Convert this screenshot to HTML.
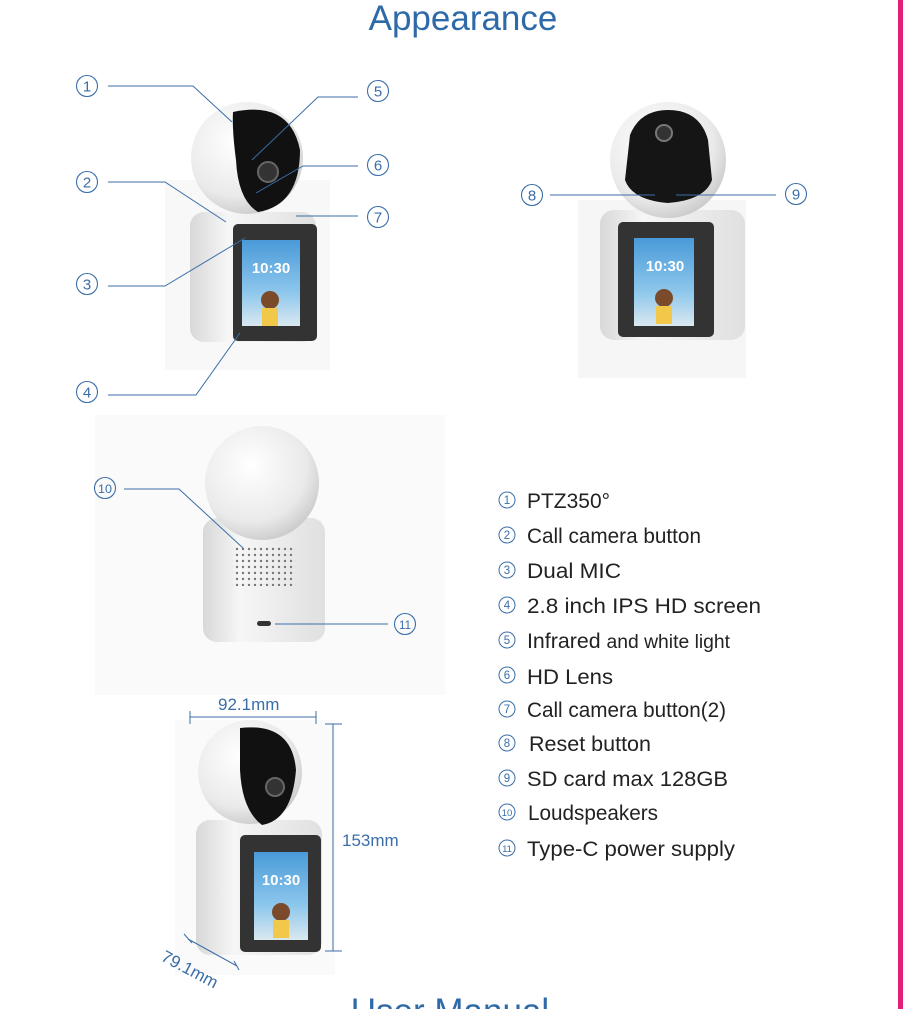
<!DOCTYPE html>
<html><head><meta charset="utf-8"><style>
html,body{margin:0;padding:0;background:#fff;}
svg{display:block;}
text{font-family:"Liberation Sans",sans-serif;}
</style></head><body>
<svg width="915" height="1009" viewBox="0 0 915 1009" xmlns="http://www.w3.org/2000/svg">
<defs>
<radialGradient id="ball" cx="0.4" cy="0.35" r="0.7"><stop offset="0" stop-color="#ffffff"/><stop offset="0.7" stop-color="#eaeaea"/><stop offset="1" stop-color="#c8c8c8"/></radialGradient>
<linearGradient id="base" x1="0" x2="1"><stop offset="0" stop-color="#d8d8d8"/><stop offset="0.3" stop-color="#f6f6f6"/><stop offset="1" stop-color="#e0e0e0"/></linearGradient>
<linearGradient id="scr" x1="0" y1="0" x2="0" y2="1"><stop offset="0" stop-color="#4a9ad8"/><stop offset="0.6" stop-color="#8cc6ec"/><stop offset="1" stop-color="#d9e8f0"/></linearGradient>
<pattern id="dots" width="6" height="6" patternUnits="userSpaceOnUse"><circle cx="3" cy="3" r="1.2" fill="#777"/></pattern>
</defs>
<rect x="898" y="0" width="5" height="1009" fill="#e0207a"/>
<text x="463" y="30" font-size="35" fill="#2e6aa8" text-anchor="middle">Appearance</text>

<!-- camera 1 -->
<rect x="165" y="180" width="165" height="190" fill="#f8f8f8"/>
<rect x="190" y="212" width="126" height="130" rx="14" fill="url(#base)"/>
<circle cx="247" cy="158" r="56" fill="url(#ball)"/>
<path d="M233,112 Q290,100 300,150 Q300,205 258,212 Q238,200 236,160 Q232,130 233,112Z" fill="#111"/>
<circle cx="268" cy="172" r="10" fill="#333" stroke="#666" stroke-width="2"/>
<rect x="233" y="224" width="84" height="117" rx="5" fill="#333"/>
<rect x="242" y="240" width="58" height="86" fill="url(#scr)"/>
<text x="271" y="273" font-size="15" font-weight="bold" fill="#fff" text-anchor="middle">10:30</text>
<circle cx="270" cy="300" r="9" fill="#7a4a2a"/><rect x="262" y="308" width="16" height="18" fill="#f2c84a"/>

<!-- camera 2 -->
<rect x="578" y="200" width="168" height="178" fill="#f6f6f6"/>
<rect x="600" y="210" width="145" height="130" rx="14" fill="url(#base)"/>
<circle cx="668" cy="160" r="58" fill="url(#ball)"/>
<path d="M630,135 Q640,110 668,110 Q700,110 708,140 L712,180 Q705,200 668,203 Q632,200 625,180Z" fill="#151515"/>
<circle cx="664" cy="133" r="8" fill="#333" stroke="#777" stroke-width="2"/>
<rect x="618" y="222" width="96" height="115" rx="5" fill="#333"/>
<rect x="634" y="238" width="60" height="88" fill="url(#scr)"/>
<text x="665" y="271" font-size="15" font-weight="bold" fill="#fff" text-anchor="middle">10:30</text>
<circle cx="664" cy="298" r="9" fill="#7a4a2a"/><rect x="656" y="306" width="16" height="18" fill="#f2c84a"/>

<!-- camera 3 -->
<rect x="95" y="415" width="350" height="280" fill="#fafafa"/>
<rect x="203" y="518" width="122" height="124" rx="14" fill="url(#base)"/>
<circle cx="262" cy="483" r="57" fill="url(#ball)"/>
<rect x="232" y="546" width="64" height="40" fill="url(#dots)"/>
<rect x="257" y="621" width="14" height="5" rx="2.5" fill="#333"/>

<!-- camera 4 -->
<rect x="175" y="720" width="160" height="255" fill="#fafafa"/>
<rect x="196" y="820" width="126" height="135" rx="14" fill="url(#base)"/>
<circle cx="250" cy="772" r="52" fill="url(#ball)"/>
<path d="M240,728 Q292,722 296,770 Q292,820 262,825 Q242,810 240,770Z" fill="#111"/>
<circle cx="275" cy="787" r="9" fill="#333" stroke="#666" stroke-width="2"/>
<rect x="240" y="835" width="81" height="117" rx="5" fill="#333"/>
<rect x="254" y="852" width="54" height="88" fill="url(#scr)"/>
<text x="281" y="885" font-size="15" font-weight="bold" fill="#fff" text-anchor="middle">10:30</text>
<circle cx="281" cy="912" r="9" fill="#7a4a2a"/><rect x="273" y="920" width="16" height="18" fill="#f2c84a"/>

<!-- leaders -->
<g stroke="#3a6ea8" stroke-width="1" fill="none">
<polyline points="108,86 193,86 232,122"/>
<polyline points="358,97 318,97 252,160"/>
<polyline points="358,166 303,166 256,193"/>
<polyline points="108,182 165,182 226,222"/>
<polyline points="358,216 296,216"/>
<polyline points="108,286 165,286 245,238"/>
<polyline points="108,395 196,395 240,333"/>
<polyline points="550,195 655,195"/>
<polyline points="776,195 676,195"/>
<polyline points="124,489 179,489 243,548"/>
<polyline points="388,624 275,624"/>
<line x1="190" y1="717" x2="316" y2="717"/><line x1="190" y1="711" x2="190" y2="724"/><line x1="316" y1="711" x2="316" y2="724"/>
<line x1="333" y1="724" x2="333" y2="951"/><line x1="325" y1="724" x2="342" y2="724"/><line x1="325" y1="951" x2="342" y2="951"/>
<line x1="188" y1="939" x2="237" y2="966"/><line x1="184" y1="934" x2="192" y2="943"/><line x1="234" y1="961" x2="239" y2="970"/>
</g>
<g stroke="#3a6ea8" stroke-width="1.1" fill="none">
<circle cx="87" cy="86" r="10.5"/><circle cx="378" cy="91" r="10.5"/><circle cx="378" cy="165" r="10.5"/>
<circle cx="87" cy="182" r="10.5"/><circle cx="378" cy="217" r="10.5"/><circle cx="87" cy="284" r="10.5"/>
<circle cx="87" cy="392" r="10.5"/><circle cx="532" cy="195" r="10.5"/><circle cx="796" cy="194" r="10.5"/>
<circle cx="105" cy="488" r="10.5"/><circle cx="405" cy="624" r="10.5"/>
</g>
<g fill="#3a6ea8" font-size="15" text-anchor="middle">
<text x="87" y="91.5">1</text><text x="378" y="96.5">5</text><text x="378" y="170.5">6</text>
<text x="87" y="187.5">2</text><text x="378" y="222.5">7</text><text x="87" y="289.5">3</text>
<text x="87" y="397.5">4</text><text x="532" y="200.5">8</text><text x="796" y="199.5">9</text>
<text x="105" y="493" font-size="12" textLength="14" lengthAdjust="spacingAndGlyphs">10</text><text x="405" y="629" font-size="12" textLength="12" lengthAdjust="spacingAndGlyphs">11</text>
</g>
<g fill="#3a6ea8" font-size="17">
<text x="218" y="710">92.1mm</text>
<text x="342" y="846">153mm</text>
<text x="160" y="960" transform="rotate(28 160 960)">79.1mm</text>
</g>

<!-- list -->
<g stroke="#3a6ea8" stroke-width="1" fill="none">
<circle cx="507" cy="500" r="8"/><circle cx="507" cy="535" r="8"/><circle cx="507" cy="570" r="8"/><circle cx="507" cy="605" r="8"/><circle cx="507" cy="640" r="8"/><circle cx="507" cy="675" r="8"/><circle cx="507" cy="709" r="8"/><circle cx="507" cy="743" r="8"/><circle cx="507" cy="778" r="8"/><circle cx="507" cy="812" r="8"/><circle cx="507" cy="848" r="8"/>
</g>
<g fill="#3a6ea8" font-size="11.5" text-anchor="middle">
<text x="507" y="504">1</text><text x="507" y="539">2</text><text x="507" y="574">3</text><text x="507" y="609">4</text><text x="507" y="644">5</text><text x="507" y="679">6</text><text x="507" y="713">7</text><text x="507" y="747">8</text><text x="507" y="782">9</text><text x="507" y="816" font-size="9.5">10</text><text x="507" y="852" font-size="9.5">11</text>
</g>
<g fill="#222" font-size="21">
<text x="527" y="508" textLength="83" lengthAdjust="spacingAndGlyphs">PTZ350°</text>
<text x="527" y="543" textLength="174" lengthAdjust="spacingAndGlyphs">Call camera button</text>
<text x="527" y="578" textLength="94" lengthAdjust="spacingAndGlyphs">Dual  MIC</text>
<text x="527" y="613" textLength="234" lengthAdjust="spacingAndGlyphs">2.8  inch  IPS  HD  screen</text>
<text x="527" y="648" textLength="203" lengthAdjust="spacingAndGlyphs">Infrared <tspan font-size="19">and white light</tspan></text>
<text x="527" y="684" textLength="86" lengthAdjust="spacingAndGlyphs">HD  Lens</text>
<text x="527" y="717" textLength="199" lengthAdjust="spacingAndGlyphs">Call camera button(2)</text>
<text x="529" y="751" textLength="122" lengthAdjust="spacingAndGlyphs">Reset  button</text>
<text x="527" y="786" textLength="201" lengthAdjust="spacingAndGlyphs">SD  card  max  128GB</text>
<text x="528" y="820" textLength="130" lengthAdjust="spacingAndGlyphs">Loudspeakers</text>
<text x="527" y="856" textLength="208" lengthAdjust="spacingAndGlyphs">Type-C  power  supply</text>
</g>
<text x="450" y="1023" font-size="35" fill="#2e6aa8" text-anchor="middle">User Manual</text>
</svg>
</body></html>
